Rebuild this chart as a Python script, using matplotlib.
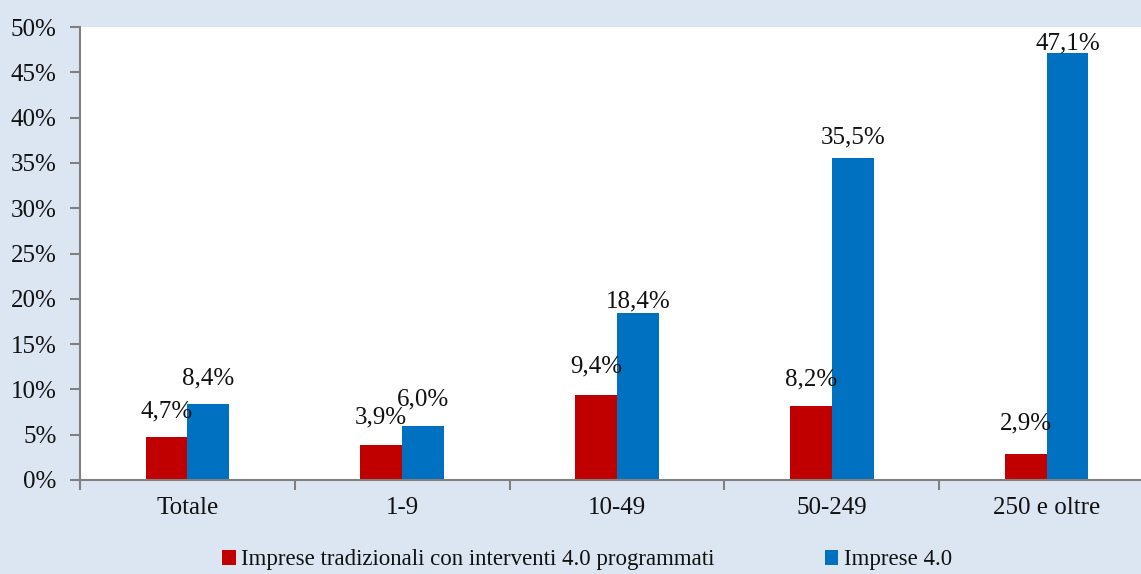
import matplotlib.pyplot as plt
import numpy as np

categories = ['Totale', '1-9', '10-49', '50-249', '250 e oltre']
tradizionali = [4.7, 3.9, 9.4, 8.2, 2.9]
imprese40 = [8.4, 6.0, 18.4, 35.5, 47.1]
series_names = ['Imprese tradizionali con interventi 4.0 programmati', 'Imprese 4.0']

# label offsets above bar top (pixels), as placed in the original
off_red = [26, 27, 28, 26, 30]
off_blue = [25, 26, 12, 21, 10]

plt.rcParams['font.family'] = ['Liberation Serif', 'DejaVu Serif']
bg = '#dce6f2'
red = '#c00000'
blue = '#0070c0'
txt = '#111111'

fig = plt.figure(figsize=(11.41, 5.74), dpi=100, facecolor=bg)
ax = fig.add_axes([80 / 1141, 94 / 574, 1074 / 1141, 453 / 574])
ax.set_facecolor('white')

x = np.arange(len(categories))
w = 0.195
b1 = ax.bar(x - w / 2, tradizionali, w, color=red, label=series_names[0])
b2 = ax.bar(x + w / 2, imprese40, w, color=blue, label=series_names[1])

for xi, v, o in zip(x - w / 2, tradizionali, off_red):
    ax.annotate(f'{v:.1f}%'.replace('.', ','), (xi, v), xytext=(0, o),
                textcoords='offset pixels', ha='center', va='center', fontsize=18, color=txt)
for xi, v, o in zip(x + w / 2, imprese40, off_blue):
    ax.annotate(f'{v:.1f}%'.replace('.', ','), (xi, v), xytext=(0, o),
                textcoords='offset pixels', ha='center', va='center', fontsize=18, color=txt)

ax.set_xlim(-0.5, 4.5)
ax.set_ylim(0, 50)
ax.set_yticks(range(0, 51, 5))
ax.set_yticklabels([f'{t}%' for t in range(0, 51, 5)], fontsize=18, color=txt)
ax.set_xticks(np.arange(-0.5, 5, 1))
ax.set_xticklabels([])
ax.set_xticks(x, minor=True)
ax.set_xticklabels(categories, minor=True, fontsize=18, color=txt)
ax.tick_params(axis='x', which='minor', length=0, pad=12)
ax.tick_params(axis='x', which='major', length=7, width=1.5, color='#808080')
ax.tick_params(axis='y', length=7, width=1.5, color='#808080', pad=10)

for s in ['top', 'right']:
    ax.spines[s].set_visible(False)
for s in ['left', 'bottom']:
    ax.spines[s].set_color('#808080')
    ax.spines[s].set_linewidth(1.5)

fig.legend(handles=[b1, b2], loc='center', bbox_to_anchor=(587 / 1141, 14 / 574), ncol=2,
           frameon=False, fontsize=16.5, handlelength=0.6, handleheight=0.6,
           handletextpad=0.25, columnspacing=4.8, labelcolor=txt)

fig.savefig('out.png', dpi=100, facecolor=bg)
